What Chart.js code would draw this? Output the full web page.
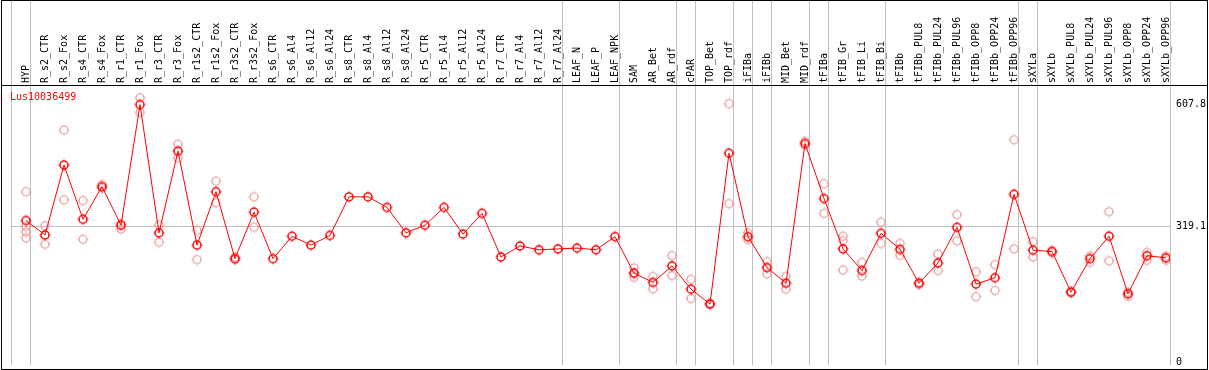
<!DOCTYPE html>
<html>
<head>
<meta charset="utf-8">
<script src="https://cdn.jsdelivr.net/npm/chart.js@4.4.1/dist/chart.umd.min.js"></script>
<style>
  html, body { margin: 0; padding: 0; background: #fff; }
  #wrap { width: 1209px; height: 370px; position: relative; }
</style>
</head>
<body>
<div id="wrap"><canvas id="chart1"></canvas></div>
<script>
// DATA
var seriesName = 'Lus10036499';
var categories = [
    'HYP', 'R_s2_CTR', 'R_s2_Fox', 'R_s4_CTR', 'R_s4_Fox', 'R_r1_CTR', 'R_r1_Fox', 'R_r3_CTR', 'R_r3_Fox',
    'R_r1s2_CTR', 'R_r1s2_Fox', 'R_r3s2_CTR', 'R_r3s2_Fox', 'R_s6_CTR', 'R_s6_Al4', 'R_s6_Al12', 'R_s6_Al24',
    'R_s8_CTR', 'R_s8_Al4', 'R_s8_Al12', 'R_s8_Al24', 'R_r5_CTR', 'R_r5_Al4', 'R_r5_Al12', 'R_r5_Al24',
    'R_r7_CTR', 'R_r7_Al4', 'R_r7_Al12', 'R_r7_Al24', 'LEAF_N', 'LEAF_P', 'LEAF_NPK', 'SAM', 'AR_Bet', 'AR_rdf',
    'cPAR', 'TOP_Bet', 'TOP_rdf', 'iFIBa', 'iFIBb', 'MID_Bet', 'MID_rdf', 'tFIBa', 'tFIB_Gr', 'tFIB_Li', 'tFIB_Bi',
    'tFIBb', 'tFIBb_PUL8', 'tFIBb_PUL24', 'tFIBb_PUL96', 'tFIBb_OPP8', 'tFIBb_OPP24', 'tFIBb_OPP96',
    'sXYLa', 'sXYLb', 'sXYLb_PUL8', 'sXYLb_PUL24', 'sXYLb_PUL96', 'sXYLb_OPP8', 'sXYLb_OPP24', 'sXYLb_OPP96'
];
var meanValues = [
    334, 300, 465, 337, 414, 323, 607.8, 305, 498, 276, 402, 244, 354, 244, 297, 276, 299,
    390, 390, 365, 305, 323, 365, 302, 351, 248, 274, 265, 267, 269, 265, 296, 210, 188, 227,
    172, 137, 493, 296, 223, 186, 516, 386, 267, 216, 304, 266, 186, 234, 318, 184, 199, 396,
    264, 261, 165, 244, 297, 161, 251, 246
];
var replicateValues = [
    [402, 320, 307, 293], [322, 278], [548, 383], [381, 290], [419, 410], [327, 314], [624, 589],
    [324, 283], [514, 482], [311, 242], [427, 376], [248, 242], [390, 318], [], [], [], [],
    [], [], [], [], [], [], [], [], [], [], [], [], [], [], [], [222, 210, 200], [202, 173], [251, 204],
    [195, 150], [139, 135], [610, 374], [305, 289], [237, 208], [202, 172], [521, 512], [421, 351],
    [297, 286, 217], [235, 203], [330, 280], [280, 252], [188, 183], [255, 216], [348, 286], [213, 154],
    [230, 169], [525, 267], [284, 248], [263, 258], [167, 163], [250, 235], [355, 239], [165, 155],
    [259, 240], [250, 240]
];
var yTicks = [0, 319.1, 607.8];
var groupStarts = [0, 1, 29, 32, 35, 36, 38, 39, 40, 42, 43, 46, 53, 54, 61];

// points sit 15px into each 19px column
var SHIFT = 15 / 19;
var FONT = { family: 'DejaVu Sans Mono', size: 10 };

function makeMarker(color, lw) {
    var c = document.createElement('canvas');
    c.width = 14; c.height = 14;
    var g = c.getContext('2d');
    g.strokeStyle = color;
    g.lineWidth = lw;
    g.beginPath(); g.arc(7, 7, 4, 0, 2 * Math.PI); g.stroke();
    g.fillStyle = color;
    // little ticks on the outside, top / bottom / left / right
    g.fillRect(6.5, 1.5, 1, 1);
    g.fillRect(6.5, 11.5, 1, 1);
    g.fillRect(1.5, 6.5, 1, 1);
    g.fillRect(11.5, 6.5, 1, 1);
    return c;
}

var meanPoints = meanValues.map(function(v, i) { return { x: i, y: v }; });
var repPoints = [];
replicateValues.forEach(function(list, i) {
    list.forEach(function(v) { repPoints.push({ x: i, y: v }); });
});

var framePlugin = {
    id: 'frame',
    beforeDatasetsDraw: function(chart) {
        var ctx = chart.ctx, xs = chart.scales.x, area = chart.chartArea;
        ctx.save();
        ctx.fillStyle = '#c0c0c0';
        groupStarts.forEach(function(k) {
            var px = Math.round(xs.getPixelForValue(k - SHIFT));
            ctx.fillRect(px, 0, 1, area.bottom);
        });
        ctx.fillStyle = '#000';
        ctx.fillRect(1, 0, 1207, 1);
        ctx.fillRect(1, 369, 1207, 1);
        ctx.fillRect(1, 0, 1, 370);
        ctx.fillRect(1207, 0, 1, 370);
        ctx.fillRect(1, Math.round(area.top), 1207, 1);
        ctx.fillStyle = '#ff0000';
        ctx.font = '10px "DejaVu Sans Mono"';
        ctx.textBaseline = 'middle';
        ctx.fillText(seriesName, 10, 97);
        ctx.restore();
    }
};

new Chart(document.getElementById('chart1'), {
    type: 'scatter',
    plugins: [framePlugin],
    data: {
        datasets: [
            {
                data: meanPoints,
                showLine: true,
                borderColor: '#ff0000',
                borderWidth: 1,
                pointStyle: makeMarker('#ff0000', 1.5),
                order: 0
            },
            {
                data: repPoints,
                showLine: false,
                pointStyle: makeMarker('#e89a9a', 1.2),
                order: 1
            }
        ]
    },
    options: {
        responsive: true,
        maintainAspectRatio: false,
        animation: false,
        layout: { padding: { left: 11, right: 0, top: 0, bottom: 1 } },
        plugins: {
            legend: { display: false },
            tooltip: { enabled: false }
        },
        scales: {
            x: {
                type: 'linear',
                position: 'top',
                min: -SHIFT,
                max: 61 - SHIFT,
                border: { display: false },
                grid: { display: false, drawTicks: false },
                afterBuildTicks: function(axis) {
                    axis.ticks = categories.map(function(_, i) { return { value: i }; });
                },
                afterFit: function(s) { s.height = 85; s.paddingLeft = 0; s.paddingRight = 0; },
                ticks: {
                    autoSkip: false,
                    minRotation: 90,
                    maxRotation: 90,
                    padding: 2,
                    labelOffset: 12,
                    color: '#000',
                    font: FONT,
                    callback: function(v, i) { return categories[i]; }
                }
            },
            y: {
                type: 'linear',
                position: 'right',
                min: -7,
                max: 654,
                border: { display: false },
                grid: {
                    drawTicks: false,
                    color: function(c) {
                        return c.tick && c.tick.value === 319.1 ? '#c0c0c0' : 'rgba(0,0,0,0)';
                    }
                },
                afterBuildTicks: function(axis) {
                    axis.ticks = yTicks.map(function(v) { return { value: v }; });
                },
                afterFit: function(s) { s.width = 39; s.paddingTop = 0; s.paddingBottom = 0; },
                ticks: {
                    padding: 6,
                    color: '#000',
                    font: FONT,
                    callback: function(v) { return v === 0 ? '0' : v.toFixed(1); }
                }
            }
        }
    }
});
</script>
</body>
</html>
